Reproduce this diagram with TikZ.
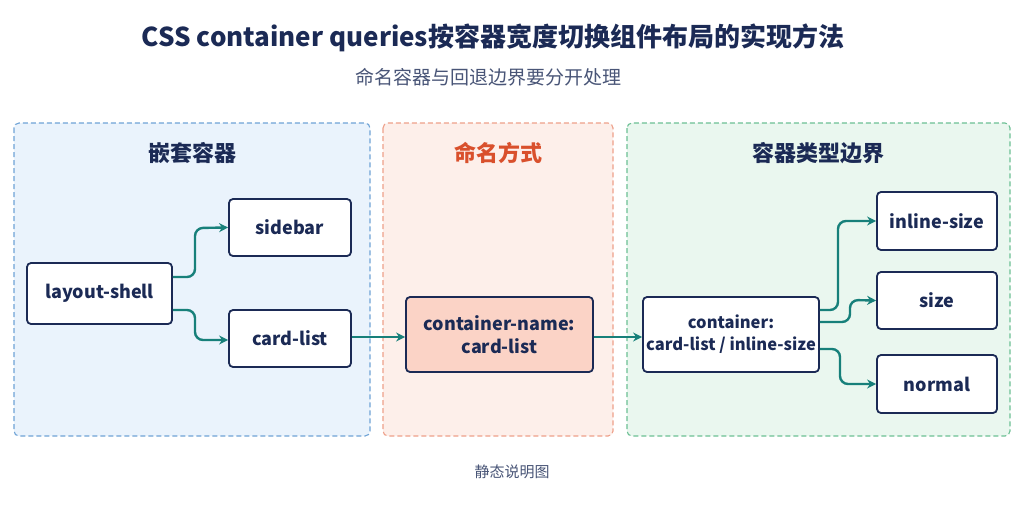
\documentclass[tikz,border=0pt]{standalone}
\usepackage{fontspec}
\setmainfont{Noto Sans CJK SC}
\usetikzlibrary{arrows.meta}
\definecolor{navy}{HTML}{1B2A55}
\definecolor{teal}{HTML}{17807A}
\definecolor{bpanel}{HTML}{EAF3FC}
\definecolor{bline}{HTML}{6FA3D6}
\definecolor{opanel}{HTML}{FDEFEA}
\definecolor{oline}{HTML}{EEA08A}
\definecolor{gpanel}{HTML}{EAF7EF}
\definecolor{gline}{HTML}{6CC094}
\definecolor{obox}{HTML}{FBD3C6}
\definecolor{otitle}{HTML}{D9502C}
\begin{document}
\begin{tikzpicture}[x=1pt,y=-1pt,
  box/.style={draw=navy,line width=1.8pt,rounded corners=4pt,fill=white,font=\fontsize{18}{23}\selectfont\bfseries,text=navy,align=center,inner sep=0pt},
  arr/.style={draw=teal,line width=2.4pt,-{Stealth[length=9pt,width=9pt]},rounded corners=8pt},
  panel/.style={dash pattern=on 5pt off 3pt,line width=1.1pt,rounded corners=5pt},
  ptitle/.style={font=\fontsize{22}{26}\selectfont\bfseries}]
\useasboundingbox (0,0) rectangle (1024,512);
\fill[white] (0,0) rectangle (1024,512);
\node[font=\fontsize{26}{30}\selectfont\bfseries,text=navy] (t) at (493,38) {CSS container queries按容器宽度切换组件布局的实现方法};
\node[font=\fontsize{19}{22}\selectfont,text=navy!80] (st) at (488,77) {命名容器与回退边界要分开处理};
\draw[panel,draw=bline,fill=bpanel] (14,123) rectangle (370,436);
\draw[panel,draw=oline,fill=opanel] (383,123) rectangle (613,436);
\draw[panel,draw=gline,fill=gpanel] (627,123) rectangle (1010,436);
\node[ptitle,text=navy] (p1) at (192,153) {嵌套容器};
\node[ptitle,text=otitle] (p2) at (498,153) {命名方式};
\node[ptitle,text=navy] (p3) at (818,153) {容器类型边界};
\node[box,minimum width=145,minimum height=61] (ls) at (99.5,293.5) {layout-shell};
\node[box,minimum width=122,minimum height=57] (sb) at (290,227.5) {sidebar};
\node[box,minimum width=122,minimum height=57] (cl) at (290,338.5) {card-list};
\node[box,minimum width=187,minimum height=75,fill=obox] (cn) at (499.5,334.5) {container-name:\\card-list};
\node[box,minimum width=176,minimum height=75,font=\fontsize{16.5}{22}\selectfont\bfseries] (ct) at (731,334.5) {container:\\card-list / inline-size};
\node[box,minimum width=120,minimum height=58] (is) at (937,221) {inline-size};
\node[box,minimum width=120,minimum height=57] (sz) at (937,300.5) {size};
\node[box,minimum width=120,minimum height=58] (nm) at (937,384) {normal};
\draw[arr] (ls.east|-0,277) -- (195,277) -- (195,228) -- (sb.west);
\draw[arr] (ls.east|-0,310) -- (195,310) -- (195,340) -- (cl.west|-0,340);
\draw[arr,rounded corners=0] (cl.east|-0,337) -- (cn.west|-0,337);
\draw[arr,rounded corners=0] (cn.east|-0,337) -- (ct.west|-0,337);
\draw[arr] (ct.east|-0,310) -- (838,310) -- (838,221) -- (is.west);
\draw[arr] (ct.east|-0,322) -- (850,322) -- (850,300) -- (sz.west);
\draw[arr] (ct.east|-0,349) -- (840,349) -- (840,384) -- (nm.west);
\node[font=\fontsize{15}{18}\selectfont,text=navy!80] (ft) at (512,472) {静态说明图};
\end{tikzpicture}
\end{document}
